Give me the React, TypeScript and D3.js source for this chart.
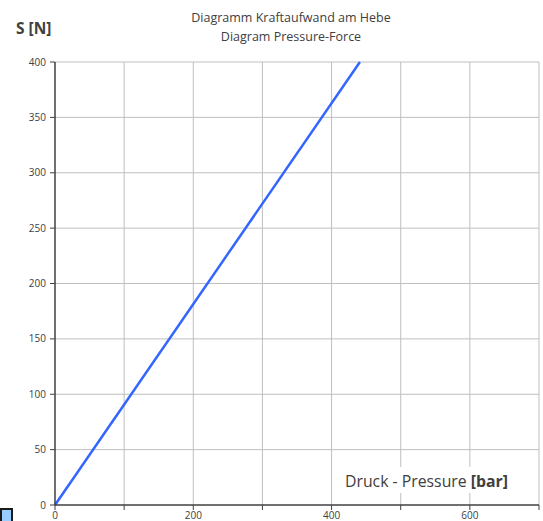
import React from "react";
import * as d3 from "d3";

const pressure = [0, 441];
const force = [0, 400];
const xTicks = [0, 100, 200, 300, 400, 500, 600, 700];
const xLabels = [0, 200, 400, 600];
const yTicks = [0, 50, 100, 150, 200, 250, 300, 350, 400];
const titleLines = ["Diagramm Kraftaufwand am Hebe", "Diagram Pressure-Force"];

export default function App() {
  const W = 543, H = 521;
  const left = 55, right = 539, top = 62, bottom = 505;
  const x = d3.scaleLinear().domain([0, 700]).range([left, right]);
  const y = d3.scaleLinear().domain([0, 400]).range([bottom, top]);
  const pts = pressure.map((p, i) => [p, force[i]] as [number, number]);
  const line = d3.line<[number, number]>().x(d => x(d[0])).y(d => y(d[1]));
  const font = "'Open Sans', sans-serif";
  return (
    <svg width={W} height={H} style={{ position: "absolute", left: 0, top: 0, background: "#fff" }} fontFamily={font}>
      {titleLines.map((t, i) => (
        <text key={t} x={291} y={22 + i * 19} textAnchor="middle" fontSize={12.5} fill="#404040">{t}</text>
      ))}
      <text x={16} y={34} fontSize={15.5} fontWeight="bold" fill="#404040">S [N]</text>
      {xTicks.slice(1).map(t => (
        <line key={"gx" + t} x1={x(t)} x2={x(t)} y1={top} y2={bottom} stroke="#bfbfbf" strokeWidth={1} />
      ))}
      {yTicks.slice(1).map(t => (
        <line key={"gy" + t} x1={left} x2={right} y1={y(t)} y2={y(t)} stroke="#bfbfbf" strokeWidth={1} />
      ))}
      <rect x={340} y={467} width={175} height={26} fill="#fff" />
      <text x={345} y={487} fontSize={15.8} fill="#404040">
        Druck - Pressure <tspan fontWeight="bold">[bar]</tspan>
      </text>
      <path d={line(pts) || ""} fill="none" stroke="#3366ff" strokeWidth={2.5} />
      <line x1={left} x2={left} y1={top} y2={bottom} stroke="#404040" strokeWidth={1.5} />
      <line x1={left} x2={right} y1={bottom} y2={bottom} stroke="#404040" strokeWidth={1.5} />
      {yTicks.map(t => (
        <g key={"ty" + t}>
          <line x1={left - 5} x2={left} y1={y(t)} y2={y(t)} stroke="#404040" strokeWidth={1} />
          <text x={46} y={y(t) + 3.5} textAnchor="end" fontSize={10} fill="#404040">{t}</text>
        </g>
      ))}
      {xTicks.map(t => (
        <line key={"tx" + t} x1={x(t)} x2={x(t)} y1={bottom} y2={bottom + 5} stroke="#404040" strokeWidth={1} />
      ))}
      {xLabels.map(t => (
        <text key={"lx" + t} x={x(t)} y={519} textAnchor="middle" fontSize={10} fill="#404040">{t}</text>
      ))}
      <rect x={1} y={509} width={11} height={14} fill="#99ccff" stroke="#1a1a1a" strokeWidth={2} />
    </svg>
  );
}
